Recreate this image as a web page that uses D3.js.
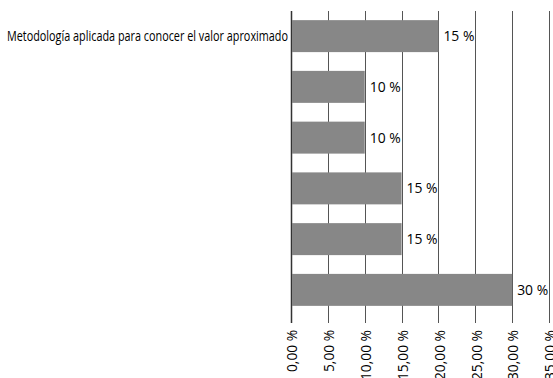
<!DOCTYPE html>
<html>
<head>
<meta charset="utf-8">
<script src="https://cdn.jsdelivr.net/npm/d3@7"></script>
<style>
  body { margin: 0; background: #fff; }
  text { font-family: "Liberation Sans Narrow", "Open Sans", sans-serif; fill: #000; }
</style>
</head>
<body>
<div id="visual"></div>
<script>
// categories (only the first one carries a visible name)
const categories = ["Metodología aplicada para conocer el valor aproximado", "", "", "", "", ""];
// bar lengths in percent as drawn
const values = [20, 10, 10, 15, 15, 30];
// data labels as printed next to each bar
const labels = ["15 %", "10 %", "10 %", "15 %", "15 %", "30 %"];
const tickValues = [0, 5, 10, 15, 20, 25, 30, 35];

const width = 553, height = 378;
const margin = { top: 11, right: 4, bottom: 63, left: 291 };

const svg = d3.select("#visual")
    .append("svg")
    .attr("width", width)
    .attr("height", height);

const x = d3.scaleLinear()
    .domain([0, 35])
    .range([margin.left, width - margin.right]);

const y = d3.scaleBand()
    .domain(d3.range(categories.length))
    .range([margin.top, height - margin.bottom])
    .paddingInner(0.37)
    .paddingOuter(0.18);

// vertical gridlines, running past the plot as tick marks
svg.append("g")
    .selectAll("line")
    .data(tickValues)
    .enter()
    .append("line")
    .attr("x1", d => Math.round(x(d)) + 0.5)
    .attr("x2", d => Math.round(x(d)) + 0.5)
    .attr("y1", margin.top)
    .attr("y2", height - margin.bottom + 8)
    .attr("stroke", d => d === 0 ? "#333" : "#555")
    .attr("stroke-width", d => d === 0 ? 1.5 : 1);

// bars
svg.append("g")
    .selectAll("rect")
    .data(values)
    .enter()
    .append("rect")
    .attr("x", x(0) + 1)
    .attr("y", (d, i) => y(i))
    .attr("width", d => x(d) - x(0) - 1)
    .attr("height", y.bandwidth())
    .attr("fill", "#878787");

// data labels
svg.append("g")
    .selectAll("text")
    .data(values)
    .enter()
    .append("text")
    .attr("x", d => x(d) + 5)
    .attr("y", (d, i) => y(i) + y.bandwidth() / 2)
    .attr("dy", "0.35em")
    .style("font-size", "14.5px")
    .attr("textLength", 31)
    .attr("lengthAdjust", "spacingAndGlyphs")
    .text((d, i) => labels[i]);

// category labels (narrow font in the original, so squeeze to fit)
svg.append("g")
    .selectAll("text")
    .data(categories)
    .enter()
    .append("text")
    .filter(d => d !== "")
    .attr("x", x(0) - 3)
    .attr("y", (d, i) => y(i) + y.bandwidth() / 2)
    .attr("dy", "0.35em")
    .attr("text-anchor", "end")
    .attr("textLength", 281)
    .attr("lengthAdjust", "spacingAndGlyphs")
    .style("font-size", "14.5px")
    .text(d => d);

// rotated tick labels
svg.append("g")
    .selectAll("text")
    .data(tickValues)
    .enter()
    .append("text")
    .attr("transform", d => "translate(" + (x(d) + 1) + "," + (height - margin.bottom + 15) + ") rotate(-90)")
    .attr("text-anchor", "end")
    .attr("dy", "0.35em")
    .style("font-size", "15px")
    .attr("textLength", d => d < 10 ? 42 : 50)
    .attr("lengthAdjust", "spacingAndGlyphs")
    .text(d => d.toFixed(2).replace(".", ",") + " %");
</script>
</body>
</html>
